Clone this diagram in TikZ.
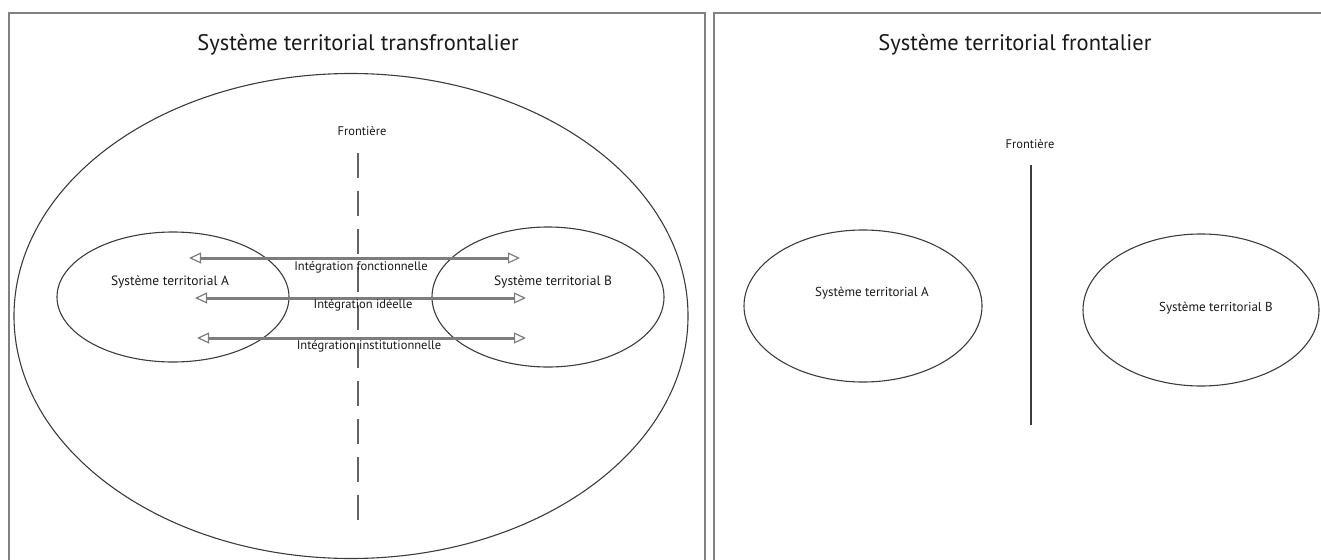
\documentclass[tikz,border=0pt]{standalone}
\usepackage{fontspec}
\setmainfont{PT Sans}
\usepackage{xcolor}
\usepackage{tikz}
\usetikzlibrary{arrows.meta, calc, positioning, shapes.geometric}
\definecolor{framegray}{RGB}{128,128,128}
\definecolor{arrowgray}{RGB}{125,125,125}
\definecolor{linegray}{RGB}{60,60,60}
\tikzset{
    myellipse/.style={draw=linegray, line width=1.1pt, ellipse, inner sep=0pt},
    mylabel/.style={align=center, font=\fontsize{12.5}{14}\selectfont, text=black!90}
}

\begin{document}
\begin{tikzpicture}[x=1pt, y=-1pt]
\tikzset{
    mytitle/.style={align=center, font=\fontsize{22.5}{26}\selectfont, text=black!90},
    mysys/.style={mylabel, font=\fontsize{13.5}{15}\selectfont},
    myarrow/.style={draw=arrowgray, line width=3pt, {Triangle[open, length=12pt, width=11pt, line width=1.2pt]}-{Triangle[open, length=12pt, width=11pt, line width=1.2pt]}},
    myframe/.style={draw=framegray, line width=2.6pt}
}
  \useasboundingbox (0,0) rectangle (1321,559);
  \clip (0,0) rectangle (1321,559);
  % cadres
  \draw[myframe] (9,13) rectangle (705,620);
  \draw[myframe] (714,13) rectangle (1360,620);
  % titres
  \node[mytitle] (ttrans) at (358,45) {Système territorial transfrontalier};
  \node[mytitle] (tfront) at (1015,45) {Système territorial frontalier};
  % systeme transfrontalier
  \node[myellipse, minimum width=674pt, minimum height=485pt] (grand) at (351,316) {};
  \node[myellipse, minimum width=232pt, minimum height=130pt] (ellA) at (173,297) {};
  \node[myellipse, minimum width=232pt, minimum height=140pt] (ellB) at (548,297) {};
  \node[mylabel] (frontA) at (362,131) {Frontière};
  \draw[draw=linegray!80, line width=1.4pt, dash pattern=on 25pt off 13pt] (358,153) -- (358,533);
  \node[mysys] (sysA) at (170,282) {Système territorial A};
  \node[mysys] (sysB) at (553,282) {Système territorial B};
  \coordinate (f1) at (189,258);
  \coordinate (f2) at (520,258);
  \coordinate (i1) at (195,298);
  \coordinate (i2) at (526,298);
  \coordinate (n1) at (197,338);
  \coordinate (n2) at (526,338);
  \draw[myarrow] (f1) -- (f2);
  \draw[myarrow] (i1) -- (i2);
  \draw[myarrow] (n1) -- (n2);
  \node[mylabel] (lfonc) at (361,267) {Intégration fonctionnelle};
  \node[mylabel] (lidee) at (363,305) {Intégration idéelle};
  \node[mylabel] (linst) at (369,346) {Intégration institutionnelle};
  % systeme frontalier
  \node[mylabel] (frontB) at (1030,144) {Frontière};
  \draw[draw=linegray, line width=1.3pt] (1031,165) -- (1031,425);
  \node[myellipse, minimum width=238pt, minimum height=152pt] (ellA2) at (863,306) {};
  \node[myellipse, minimum width=236pt, minimum height=152pt] (ellB2) at (1201,310) {};
  \node[mylabel, font=\fontsize{13}{15}\selectfont] (sysA2) at (872,293) {Système territorial A};
  \node[mylabel, font=\fontsize{13}{15}\selectfont] (sysB2) at (1216,308) {Système territorial B};
\end{tikzpicture}
\end{document}
